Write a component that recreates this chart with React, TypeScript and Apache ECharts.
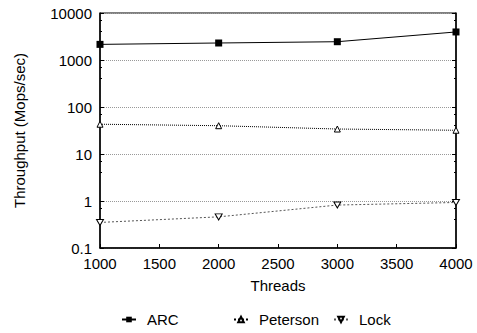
import React, { useEffect, useRef } from "react";
import * as echarts from "echarts";

const threads = [1000, 2000, 3000, 4000];
const arc = [2150, 2300, 2450, 3950];
const peterson = [43, 40, 34, 32];
const lock = [0.35, 0.46, 0.82, 0.93];
const seriesNames = ["ARC", "Peterson", "Lock"];

const FONT = "'Liberation Sans', Arial, sans-serif";
const FS = 15;
const triDown = "path://M0,0 L10,0 L5,9 Z";

export default function App() {
  const ref = useRef<HTMLDivElement>(null);
  useEffect(() => {
    const chart = echarts.init(ref.current!, null, { renderer: "svg" });
    const mk = (xs: number[], ys: number[]) => xs.map((x, i) => [x, ys[i]]);
    const legendLefts = [121, 233, 333];
    const legends = seriesNames.map((n, i) => ({
      top: 312,
      left: legendLefts[i],
      padding: 0,
      itemWidth: 14,
      itemHeight: 7,
      itemGap: 10,
      textStyle: { fontFamily: FONT, fontSize: FS, color: "#000", padding: [0, 0, 0, 6] },
      data: [n],
    }));
    const yCommon = {
      type: "log",
      logBase: 10,
      min: 0.1,
      max: 10000,
      axisLine: { show: true, lineStyle: { color: "#000", width: 1.5 } },
      axisTick: { inside: true, length: 4, lineStyle: { color: "#000" } },
      minorTick: { show: true, splitNumber: 3, length: 2, lineStyle: { color: "#000" } },
    };
    chart.setOption({
      animation: false,
      backgroundColor: "#fff",
      textStyle: { fontFamily: FONT, color: "#000" },
      grid: { left: 100, right: 21, top: 13, bottom: 85, show: true, borderColor: "#000", borderWidth: 1, backgroundColor: "transparent" },
      legend: legends,
      xAxis: {
        type: "value",
        min: 1000,
        max: 4000,
        interval: 500,
        name: "Threads",
        nameLocation: "middle",
        nameGap: 30,
        nameTextStyle: { fontFamily: FONT, fontSize: FS, color: "#000" },
        axisLine: { lineStyle: { color: "#000", width: 1.5 } },
        axisTick: { inside: true, length: 4, lineStyle: { color: "#000" } },
        axisLabel: { fontFamily: FONT, fontSize: FS, color: "#000", margin: 8, formatter: (v: number) => String(v) },
        splitLine: { show: false },
      },
      yAxis: [
        {
          ...yCommon,
          name: "Throughput (Mops/sec)",
          nameLocation: "middle",
          nameGap: 73,
          nameTextStyle: { fontFamily: FONT, fontSize: FS, color: "#000" },
          axisLabel: { fontFamily: FONT, fontSize: FS, color: "#000", margin: 8, formatter: (v: number) => String(v) },
          splitLine: { show: true, lineStyle: { color: "#999", type: "dotted", width: 1 } },
        },
        {
          ...yCommon,
          position: "right",
          axisLabel: { show: false },
          splitLine: { show: false },
        },
      ],
      series: [
        {
          name: "ARC",
          type: "line",
          data: mk(threads, arc),
          symbol: "rect",
          symbolSize: 7,
          itemStyle: { color: "#000" },
          lineStyle: { color: "#000", width: 1 },
        },
        {
          name: "Peterson",
          type: "line",
          data: mk(threads, peterson),
          symbol: "triangle",
          symbolSize: 6,
          itemStyle: { color: "#fff", borderColor: "#000", borderWidth: 1 },
          lineStyle: { color: "#000", width: 1, type: "dotted" },
        },
        {
          name: "Lock",
          type: "line",
          data: mk(threads, lock),
          symbol: triDown,
          symbolSize: [7, 6],
          itemStyle: { color: "#fff", borderColor: "#000", borderWidth: 1 },
          lineStyle: { color: "#555", width: 1, type: [2, 2] },
        },
      ],
    });
    return () => chart.dispose();
  }, []);
  return <div ref={ref} style={{ position: "fixed", left: 0, top: 0, width: 477, height: 333 }} />;
}
